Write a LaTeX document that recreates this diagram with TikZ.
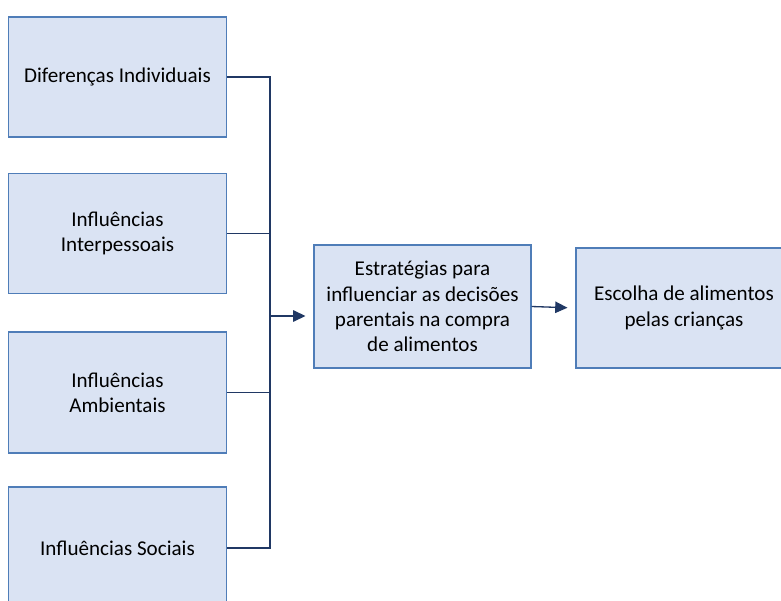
\documentclass[tikz,border=0pt]{standalone}
\usepackage{fontspec}
\setmainfont{Carlito}
\usepackage{tikz}
\usetikzlibrary{positioning,arrows.meta,calc}
\definecolor{palFill}{HTML}{DAE3F3}
\definecolor{palEdge}{HTML}{4F7DB8}
\definecolor{palLine}{HTML}{203864}
\tikzset{
  factorbox/.style={draw=palEdge, fill=palFill, line width=0.7pt,
                    minimum width=4.36cm, minimum height=2.4cm,
                    align=center, inner sep=2pt,
                    font=\fontsize{12}{14.3}\selectfont},
  linkline/.style={palLine, line width=0.75pt},
  linkarrow/.style={linkline, -{Triangle[length=7pt, width=6.5pt]}},
}
\begin{document}
\begin{tikzpicture}[x=0.02cm, y=-0.02cm]
\clip (0,0) rectangle (781,601);
%% Left column
\node[factorbox] (indiv) at (117.5,77) {Diferenças Individuais};
\node[factorbox] (inter) at (117.5,233.5) {Influências\\Interpessoais};
\node[factorbox, minimum height=2.42cm] (ambi) at (117.5,392.5) {Influências\\Ambientais};
\node[factorbox, minimum height=2.44cm] (soci) at (117.5,548) {Influências Sociais};
%% Middle and right
\node[factorbox, minimum width=4.34cm, minimum height=2.46cm] (strat) at (422.5,306.5)
  {Estratégias para\\influenciar as decisões\\parentais na compra\\de alimentos};
\node[factorbox, minimum width=4.32cm] (choice) at (684,308)
  {Escolha de alimentos\\pelas crianças};
%% Connectors
\coordinate (trunk) at (270,316);
\draw[linkline] (indiv.east) -| (trunk);
\draw[linkline] (soci.east) -| (trunk);
\draw[linkline] (inter.east) -- (inter.east -| trunk);
\draw[linkline] (ambi.east) -- (ambi.east -| trunk);
\draw[linkarrow, shorten >=4.5pt] (trunk) -- (strat.west |- trunk);
\draw[linkarrow, shorten >=4.5pt] (strat.east) -- (choice.west);
\end{tikzpicture}
\end{document}
